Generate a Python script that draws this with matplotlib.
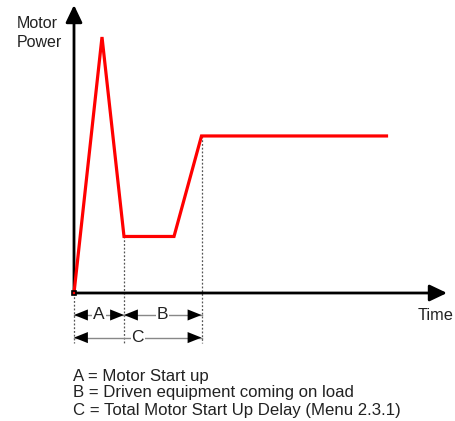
import matplotlib
matplotlib.use("Agg")
import matplotlib.pyplot as plt
from matplotlib.patches import FancyArrowPatch

plt.rcParams['font.family'] = ['Liberation Sans', 'DejaVu Sans']

# Motor power profile during start-up (time in arbitrary units, power in % of running load)
time = [0.0, 1.12, 2.0, 4.0, 5.1, 12.5]
power = [0.0, 163.0, 36.0, 36.0, 100.0, 100.0]

# Phase boundaries
t_start = 0.0
t_a_end = 2.0      # end of motor start up
t_c_end = 5.1      # end of total start-up delay

phase_labels = ["A", "B", "C"]
legend_lines = [
    "A = Motor Start up",
    "B = Driven equipment coming on load",
    "C = Total Motor Start Up Delay (Menu 2.3.1)",
]

W, H = 455, 421
fig = plt.figure(figsize=(W / 100, H / 100), dpi=100)
ax = fig.add_axes([74 / W, 128 / H, 373 / W, 288 / H])
ax.set_xlim(0, 14.92)
ax.set_ylim(0, 183.4)
ax.axis('off')

# Axes drawn as arrows
for end in [(1, 0), (0, 1)]:
    ax.add_patch(FancyArrowPatch((0, 0), end, transform=ax.transAxes,
                                 arrowstyle='-|>,head_length=10.5,head_width=5',
                                 color='black', lw=2.0, shrinkA=0, shrinkB=0,
                                 clip_on=False, zorder=3))

# Power curve
ax.plot(time, power, color='#ff0000', lw=2.3, solid_joinstyle='miter', zorder=4,
        clip_on=False)
ax.plot([time[0]], [power[0]], marker='s', ms=3.5, mfc='none', mec='black',
        mew=1.2, zorder=5, clip_on=False)

# Dotted guide lines down to the dimension arrows
y_dim_a = -14.0
y_dim_c = -28.4
y_guide_bottom = -32.0
for t, p in [(t_start, 0.0), (t_a_end, power[2]), (t_c_end, power[4])]:
    ax.plot([t, t], [p, y_guide_bottom], color='#555555', lw=0.9,
            ls=(0, (1.5, 1.5)), clip_on=False, zorder=2)

def dimension(x0, x1, y, label):
    ax.add_patch(FancyArrowPatch((x0, y), (x1, y),
                                 arrowstyle='<|-|>,head_length=10,head_width=4',
                                 color='black', lw=0, shrinkA=0, shrinkB=0,
                                 clip_on=False, zorder=3))
    ax.plot([x0, x1], [y, y], color='#888888', lw=1.0, clip_on=False, zorder=2)
    ax.text((x0 + x1) / 2, y, label, ha='center', va='center', fontsize=12.5,
            color='#222222', zorder=4,
            bbox=dict(boxstyle='square,pad=0.05', fc='white', ec='none'))

dimension(t_start, t_a_end, y_dim_a, phase_labels[0])
dimension(t_a_end, t_c_end, y_dim_a, phase_labels[1])
dimension(t_start, t_c_end, y_dim_c, phase_labels[2])

# Axis titles
fig.text(17 / W, 1 - 16 / H, "Motor\nPower", ha='left', va='top', fontsize=11.5,
         color='#222222', linespacing=1.3)
fig.text(418 / W, 1 - 316 / H, "Time", ha='left', va='center', fontsize=11.8,
         color='#222222')

# Key
for i, line in enumerate(legend_lines):
    fig.text(73 / W, 1 - (376 + 17 * i) / H, line, ha='left', va='center',
             fontsize=12.1, color='#222222')

fig.savefig("out.png", dpi=100, facecolor='white')
